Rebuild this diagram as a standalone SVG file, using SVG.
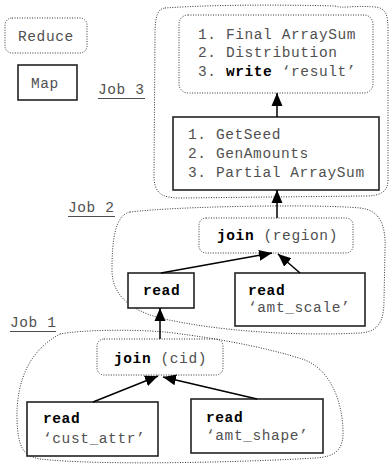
<svg xmlns="http://www.w3.org/2000/svg" width="390" height="469" viewBox="0 0 390 469">
<style>
text{font-family:"Liberation Mono","Courier New",monospace;font-size:14.5px;letter-spacing:0.6px;fill:#505050}
.b{font-weight:bold;fill:#000}
.reduce{fill:none;stroke:#333;stroke-width:1;stroke-dasharray:1 1.5}
.map{fill:#fff;stroke:#222;stroke-width:1.6}
.blob{fill:none;stroke:#333;stroke-width:1;stroke-dasharray:1 1.5}
.edge{fill:none;stroke:#000;stroke-width:1.5}
.ul{stroke:#505050;stroke-width:1}
</style>
<defs>
<marker id="ah" markerUnits="userSpaceOnUse" markerWidth="14" markerHeight="14" viewBox="0 0 14 14" refX="13" refY="7" orient="auto">
<path d="M0,1.5 L13,7 L0,12.5 Z" fill="#000"/>
</marker>
</defs>

<g id="blobs">
<path class="blob" d="M 165 8 C 220 4, 300 5, 335 6 C 345 9, 350 5, 375 7 C 386 8, 388 15, 388 30 L 388 180 C 388 192, 380 196, 365 196 L 180 198 C 160 198, 154 192, 154 175 L 155 35 C 155 15, 158 9, 165 8 Z"/>
<path class="blob" d="M 130 212 C 180 206, 320 204, 360 208 C 380 210, 386 225, 385 250 L 384 300 C 384 322, 378 332, 360 333 C 300 336, 220 332, 160 318 C 130 310, 112 295, 112 270 C 112 240, 115 215, 130 212 Z"/>
<path class="blob" d="M 60 334 C 80 330, 130 329, 165 332 C 200 336, 260 345, 305 360 C 330 370, 342 400, 343 430 C 344 450, 335 457, 315 458 C 250 462, 100 466, 40 459 C 22 456, 18 445, 17 420 C 16 380, 30 350, 60 334 Z"/>
</g>

<g id="legend-reduce">
<rect class="reduce" x="5" y="18" width="82" height="35" rx="7"/>
<text x="18" y="41">Reduce</text>
</g>
<g id="legend-map">
<rect class="map" x="18" y="65" width="59" height="35"/>
<text x="31" y="88">Map</text>
</g>

<g id="label-job3">
<text x="98" y="94">Job 3</text>
<line class="ul" x1="98" y1="98.5" x2="145" y2="98.5"/>
</g>
<g id="label-job2">
<text x="68" y="212">Job 2</text>
<line class="ul" x1="68" y1="216.5" x2="115" y2="216.5"/>
</g>
<g id="label-job1">
<text x="10" y="327">Job 1</text>
<line class="ul" x1="10" y1="331.5" x2="56" y2="331.5"/>
</g>

<g id="final">
<rect class="reduce" x="179" y="15" width="194" height="78" rx="9"/>
<text x="198" y="39">1. Final ArraySum</text>
<text x="198" y="57">2. Distribution</text>
<text x="198" y="76">3. <tspan class="b">write</tspan> ‘result’</text>
</g>

<g id="partial">
<rect class="map" x="173" y="117" width="206" height="73"/>
<text x="188" y="139">1. GetSeed</text>
<text x="188" y="158">2. GenAmounts</text>
<text x="188" y="177">3. Partial ArraySum</text>
</g>

<g id="join-region">
<rect class="reduce" x="199" y="218" width="154" height="35" rx="7"/>
<text x="217" y="240"><tspan class="b">join</tspan> (region)</text>
</g>

<g id="read-mid">
<rect class="map" x="128" y="273" width="66" height="35"/>
<text x="143" y="295" class="b">read</text>
</g>

<g id="read-amt-scale">
<rect class="map" x="235" y="273" width="130" height="53"/>
<text x="248" y="295" class="b">read</text>
<text x="248" y="312">‘amt_scale’</text>
</g>

<g id="join-cid">
<rect class="reduce" x="97" y="339" width="126" height="36" rx="7"/>
<text x="114" y="363"><tspan class="b">join</tspan> (cid)</text>
</g>

<g id="read-cust-attr">
<rect class="map" x="27" y="402" width="131" height="54"/>
<text x="43" y="423" class="b">read</text>
<text x="43" y="443">‘cust_attr’</text>
</g>

<g id="read-amt-shape">
<rect class="map" x="191" y="399" width="132" height="54"/>
<text x="206" y="422" class="b">read</text>
<text x="206" y="440">‘amt_shape’</text>
</g>

<g id="connectors">
<line class="edge" x1="277" y1="117" x2="277" y2="93" marker-end="url(#ah)"/>
<line class="edge" x1="277" y1="218" x2="277" y2="190" marker-end="url(#ah)"/>
<line class="edge" x1="160" y1="339" x2="160" y2="308" marker-end="url(#ah)"/>
<line class="edge" x1="161" y1="273" x2="272" y2="253" marker-end="url(#ah)"/>
<line class="edge" x1="300" y1="273" x2="278" y2="254" marker-end="url(#ah)"/>
<line class="edge" x1="93" y1="402" x2="158" y2="376" marker-end="url(#ah)"/>
<line class="edge" x1="257" y1="399" x2="163" y2="377" marker-end="url(#ah)"/>
</g>
</svg>
